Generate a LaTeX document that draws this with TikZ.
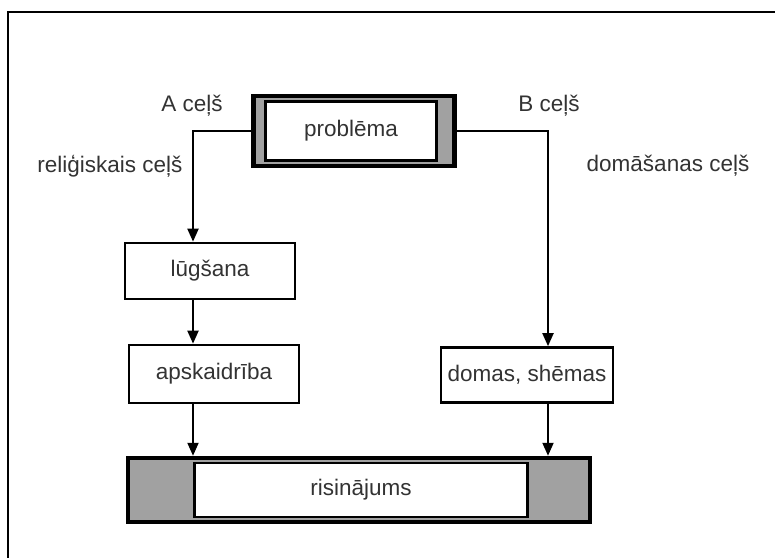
\documentclass[tikz,border=0pt]{standalone}
\usepackage{fontspec}
\setmainfont{Liberation Sans}
\usetikzlibrary{arrows.meta}

\begin{document}
\begin{tikzpicture}[x=1pt,y=-1pt,
                font=\fontsize{22.5}{27}\selectfont,
                main/.style = {draw, line width=2.7pt, fill=white, text=black!80, inner sep=0pt,
                               minimum width=170pt, minimum height=56pt},
                outer/.style = {draw, line width=4.5pt, fill=black!37, inner sep=0pt},
                way/.style = {text=black!80},
                link/.style = {line width=2pt, -{Triangle[length=13pt,width=11pt]}}]
                \useasboundingbox (0,0) rectangle (775,558);
                \draw[line width=2pt] (775,12) -| (8,558);
                % top box
                \node[outer, minimum width=201pt, minimum height=70pt] (1) at (354,131) {};
                \node[main, minimum width=171pt, minimum height=59pt] (1a) at (351,131) {problēma};
                % A and B
                \node[main] (2) at (210,271) {lūgšana};
                \node[main, minimum height=58pt] (3) at (214,374) {apskaidrība};
                \node[main, minimum width=172pt, minimum height=55pt] (4) at (527,375) {domas, shēmas};
                % bottom box
                \node[outer, minimum width=462pt, minimum height=64pt] (5) at (359,490) {};
                \node[main, minimum width=333pt, minimum height=54pt] (5a) at (361,490) {risinājums};
                \node[way] (a) at (192,106) {A ceļš};
                \node[way] (r) at (110,166) {reliģiskais ceļš};
                \node[way] (b) at (549,106) {B ceļš};
                \node[way] (d) at (668,166) {domāšanas ceļš};
                \draw[link] (1.west) -| ([xshift=-17pt]2.north);
                \draw[link] (1.east) -| ([xshift=21pt]4.north);
                \draw[link] ([xshift=-17pt]2.south) -- ([xshift=-21pt]3.north);
                \draw[link] ([xshift=-21pt]3.south) -- ([xshift=-21pt]3.south |- 5.north);
                \draw[link] ([xshift=21pt]4.south) -- ([xshift=21pt]4.south |- 5.north);
\end{tikzpicture}
\end{document}
